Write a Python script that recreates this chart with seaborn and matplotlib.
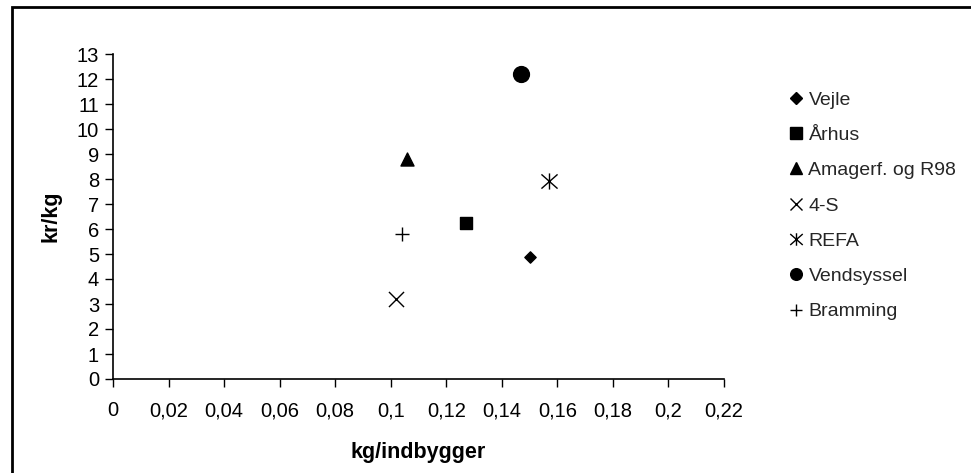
import matplotlib
matplotlib.use("Agg")
import matplotlib.pyplot as plt
import seaborn as sns
import pandas as pd
from matplotlib.lines import Line2D
from matplotlib.patches import Rectangle
from matplotlib.path import Path

names = ["Vejle", "Århus", "Amagerf. og R98", "4-S", "REFA", "Vendsyssel", "Bramming"]
kg_per_capita = [0.150, 0.127, 0.106, 0.102, 0.157, 0.147, 0.104]
kr_per_kg = [4.9, 6.25, 8.8, 3.2, 7.92, 12.2, 5.8]
x_ticks = [0, 0.02, 0.04, 0.06, 0.08, 0.1, 0.12, 0.14, 0.16, 0.18, 0.2, 0.22]
x_tick_labels = ["0", "0,02", "0,04", "0,06", "0,08", "0,1", "0,12", "0,14", "0,16", "0,18", "0,2", "0,22"]
y_ticks = list(range(0, 14))

df = pd.DataFrame({"name": names, "x": kg_per_capita, "y": kr_per_kg})

# asterisk: X with a vertical stroke
star = Path([(-1, -0.88), (1, 0.88), (-1, 0.88), (1, -0.88), (0, -1), (0, 1)],
            [Path.MOVETO, Path.LINETO, Path.MOVETO, Path.LINETO, Path.MOVETO, Path.LINETO])

markers = {"Vejle": "D", "Århus": "s", "Amagerf. og R98": "^", "4-S": "x",
           "REFA": star, "Vendsyssel": "o", "Bramming": "+"}
plot_sizes = {"Vejle": 33, "Århus": 70, "Amagerf. og R98": 88, "4-S": 118,
              "REFA": 135, "Vendsyssel": 130, "Bramming": 100}
leg_ms = {"Vejle": 6.3, "Århus": 8.2, "Amagerf. og R98": 9.3, "4-S": 8.6,
          "REFA": 9, "Vendsyssel": 8.4, "Bramming": 8.6}

sns.set_theme(style="white")
plt.rcParams["font.family"] = ["Liberation Sans", "DejaVu Sans"]

fig = plt.figure(figsize=(9.71, 4.73), dpi=100)
ax = fig.add_axes([113/971, 1-379/473, 611/971, 325/473])

for n in names:
    sub = df[df["name"] == n]
    sns.scatterplot(data=sub, x="x", y="y", marker=markers[n], s=plot_sizes[n],
                    color="black", edgecolor="black", linewidth=1.0,
                    legend=False, ax=ax)

ax.set_xlim(0, 0.22)
ax.set_ylim(0, 13)
ax.set_xticks(x_ticks)
ax.set_xticklabels(x_tick_labels)
ax.set_yticks(y_ticks)
ax.tick_params(axis="both", direction="out", length=5.5, width=1, color="black",
               labelsize=14.5, labelcolor="black", bottom=True, left=True)
ax.tick_params(axis="x", pad=10.5)
ax.tick_params(axis="y", pad=4.5)
for s in ["top", "right"]:
    ax.spines[s].set_visible(False)
for s in ["left", "bottom"]:
    ax.spines[s].set_color("black")
    ax.spines[s].set_linewidth(1.2)

ax.set_xlabel("kg/indbygger", fontsize=15.5, fontweight="bold", color="black")
ax.set_ylabel("kr/kg", fontsize=15.5, fontweight="bold", color="black")
ax.xaxis.set_label_coords(0.5, -0.195)
ax.yaxis.set_label_coords(-0.085, 0.5)

handles = []
for n in names:
    handles.append(Line2D([], [], linestyle="none", marker=markers[n], color="black",
                          markeredgecolor="black", markersize=leg_ms[n], markeredgewidth=1.0))
leg = fig.legend(handles, names, loc="upper left", bbox_to_anchor=(790/971, 1-91/473),
                 frameon=False, fontsize=14, handlelength=0.6, handletextpad=0.35,
                 labelspacing=0.91, borderaxespad=0, borderpad=0)

fig.add_artist(Rectangle((12/971, -0.1), 1.2, 1.1 - 7/473, transform=fig.transFigure,
                         fill=False, edgecolor="black", linewidth=2, clip_on=False))

fig.savefig("out.png", dpi=100)
